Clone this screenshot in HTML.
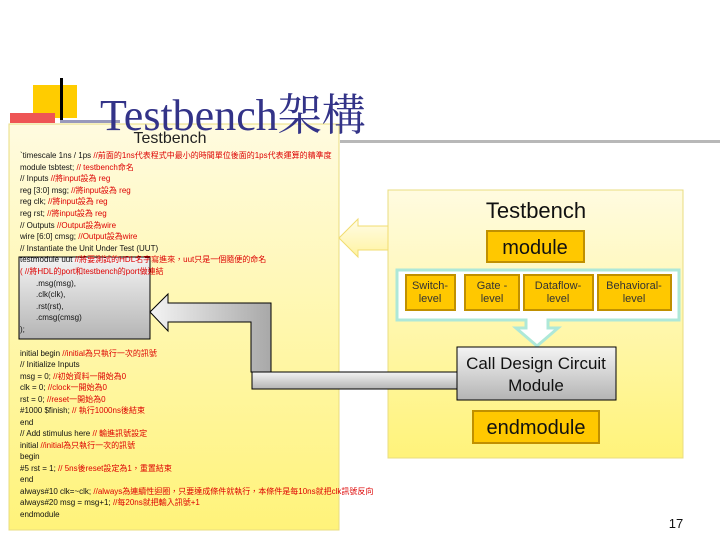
<!DOCTYPE html>
<html><head><meta charset="utf-8"><style>
body{margin:0;width:720px;height:540px;overflow:hidden;background:#fff;font-family:"Liberation Sans","Noto Sans CJK TC",sans-serif}
</style></head><body>
<svg width="720" height="540" viewBox="0 0 720 540" xmlns="http://www.w3.org/2000/svg" font-family="Liberation Sans, Noto Sans CJK TC, sans-serif">
<defs>
<linearGradient id="yl" x1="0" y1="0" x2="0" y2="1"><stop offset="0" stop-color="#fffbe0"/><stop offset="1" stop-color="#fff37a"/></linearGradient>
<linearGradient id="gr" x1="0" y1="0" x2="0" y2="1"><stop offset="0" stop-color="#f4f4f4"/><stop offset="1" stop-color="#b4b4b4"/></linearGradient>
<linearGradient id="gh" x1="0" y1="0" x2="1" y2="0"><stop offset="0" stop-color="#f4f4f4"/><stop offset="1" stop-color="#a8a8a8"/></linearGradient>
<linearGradient id="ya" x1="0" y1="0" x2="0" y2="1"><stop offset="0" stop-color="#fffce8"/><stop offset="1" stop-color="#fff3a0"/></linearGradient>
</defs>
<rect x="33" y="85" width="44" height="33" fill="#ffcc00"/>
<rect x="10" y="113" width="45" height="10" fill="#ee5555"/>
<rect x="60" y="78" width="3" height="45" fill="#000"/>
<rect x="60" y="120" width="60" height="3" fill="#9999bb"/>
<rect x="340" y="140" width="380" height="3" fill="#b8b8b8"/>
<rect x="9" y="124" width="330" height="406" fill="url(#yl)" stroke="#e8dc80"/>
<text x="100" y="130" font-family="Liberation Serif, Noto Serif CJK SC, serif" font-size="44" fill="#333388">Testbench架構</text>
<text x="170" y="143" font-size="16" text-anchor="middle" fill="#222">Testbench</text>
<rect x="19" y="257" width="131" height="82" fill="url(#gr)" stroke="#000"/>
<g font-size="8" fill="#111">
<text x="20" y="158">`timescale 1ns / 1ps <tspan fill="#d00">//前面的1ns代表程式中最小的時間單位後面的1ps代表運算的精準度</tspan></text>
<text x="20" y="170">module tsbtest; <tspan fill="#d00">// testbench命名</tspan></text>
<text x="20" y="181">// Inputs <tspan fill="#d00">//將input設為 reg</tspan></text>
<text x="20" y="193">reg [3:0] msg; <tspan fill="#d00">//將input設為 reg</tspan></text>
<text x="20" y="204">reg clk; <tspan fill="#d00">//將input設為 reg</tspan></text>
<text x="20" y="216">reg rst; <tspan fill="#d00">//將input設為 reg</tspan></text>
<text x="20" y="228">// Outputs <tspan fill="#d00">//Output設為wire</tspan></text>
<text x="20" y="239">wire [6:0] cmsg; <tspan fill="#d00">//Output設為wire</tspan></text>
<text x="20" y="251">// Instantiate the Unit Under Test (UUT)</text>
<text x="20" y="262">testmodule uut <tspan fill="#d00">//將要測試的HDL名字寫進來，uut只是一個隨便的命名</tspan></text>
<text x="20" y="274"><tspan fill="#d00">(    //將HDL的port和testbench的port做連結</tspan></text>
<text x="36" y="286">.msg(msg),</text>
<text x="36" y="297">.clk(clk),</text>
<text x="36" y="309">.rst(rst),</text>
<text x="36" y="320">.cmsg(cmsg)</text>
<text x="20" y="332">);</text>
<text x="20" y="356">initial begin <tspan fill="#d00">//initial為只執行一次的訊號</tspan></text>
<text x="20" y="367">// Initialize Inputs</text>
<text x="20" y="379">msg = 0; <tspan fill="#d00">//初始資料一開始為0</tspan></text>
<text x="20" y="390">clk = 0;  <tspan fill="#d00">//clock一開始為0</tspan></text>
<text x="20" y="402">rst = 0;  <tspan fill="#d00">//reset一開始為0</tspan></text>
<text x="20" y="413">#1000 $finish; <tspan fill="#d00">// 執行1000ns後結束</tspan></text>
<text x="20" y="425">end</text>
<text x="20" y="436">// Add stimulus here <tspan fill="#d00">// 輸進訊號設定</tspan></text>
<text x="20" y="448">initial <tspan fill="#d00">//initial為只執行一次的訊號</tspan></text>
<text x="20" y="459">begin</text>
<text x="20" y="471">#5 rst = 1; <tspan fill="#d00">// 5ns後reset設定為1，重置結束</tspan></text>
<text x="20" y="482">end</text>
<text x="20" y="494">always#10 clk=~clk; <tspan fill="#d00">//always為連續性迴圈，只要達成條件就執行，本條件是每10ns就把clk訊號反向</tspan></text>
<text x="20" y="505">always#20 msg = msg+1; <tspan fill="#d00">//每20ns就把輸入訊號+1</tspan></text>
<text x="20" y="517">endmodule</text>
</g>
<rect x="388" y="190" width="295" height="268" fill="url(#yl)" stroke="#e8dc80"/>
<path d="M150,312 L168,294 L168,303 L271,303 L271,372 L251,372 L251,322 L168,322 L168,331 Z" fill="url(#gh)" stroke="#000"/>
<rect x="252" y="372" width="206" height="17" fill="url(#gr)" stroke="#000"/>
<path d="M339,238 L358,219 L358,226 L388,226 L388,250 L358,250 L358,257 Z" fill="url(#ya)" stroke="#f0dc70"/>
<text x="536" y="218" font-size="22" text-anchor="middle" fill="#111">Testbench</text>
<rect x="487" y="231" width="97" height="31" fill="#ffc800" stroke="#c09000" stroke-width="2"/>
<text x="535" y="254" font-size="20" text-anchor="middle" fill="#111">module</text>
<path d="M397,270 L679,270 L679,320 L548,320 L548,328 L558,328 L537,346 L516,328 L526,328 L526,320 L397,320 Z" fill="#fff" stroke="#aee8d8" stroke-width="3"/>
<g font-size="11" fill="#333" text-anchor="middle">
<rect x="406" y="275" width="49" height="35" fill="#ffc800" stroke="#c09000" stroke-width="2"/>
<text x="430" y="289">Switch-</text><text x="430" y="302">level</text>
<rect x="465" y="275" width="54" height="35" fill="#ffc800" stroke="#c09000" stroke-width="2"/>
<text x="492" y="289">Gate -</text><text x="492" y="302">level</text>
<rect x="524" y="275" width="69" height="35" fill="#ffc800" stroke="#c09000" stroke-width="2"/>
<text x="558" y="289">Dataflow-</text><text x="558" y="302">level</text>
<rect x="598" y="275" width="73" height="35" fill="#ffc800" stroke="#c09000" stroke-width="2"/>
<text x="634" y="289">Behavioral-</text><text x="634" y="302">level</text>
</g>
<rect x="457" y="347" width="159" height="53" fill="url(#gr)" stroke="#000"/>
<text x="536" y="369" font-size="17" text-anchor="middle" fill="#111">Call Design Circuit</text>
<text x="536" y="391" font-size="17" text-anchor="middle" fill="#111">Module</text>
<rect x="473" y="411" width="126" height="32" fill="#ffc800" stroke="#c09000" stroke-width="2"/>
<text x="536" y="434" font-size="20" text-anchor="middle" fill="#111">endmodule</text>
<text x="676" y="528" font-size="13" text-anchor="middle" fill="#111">17</text>
</svg>
</body></html>
